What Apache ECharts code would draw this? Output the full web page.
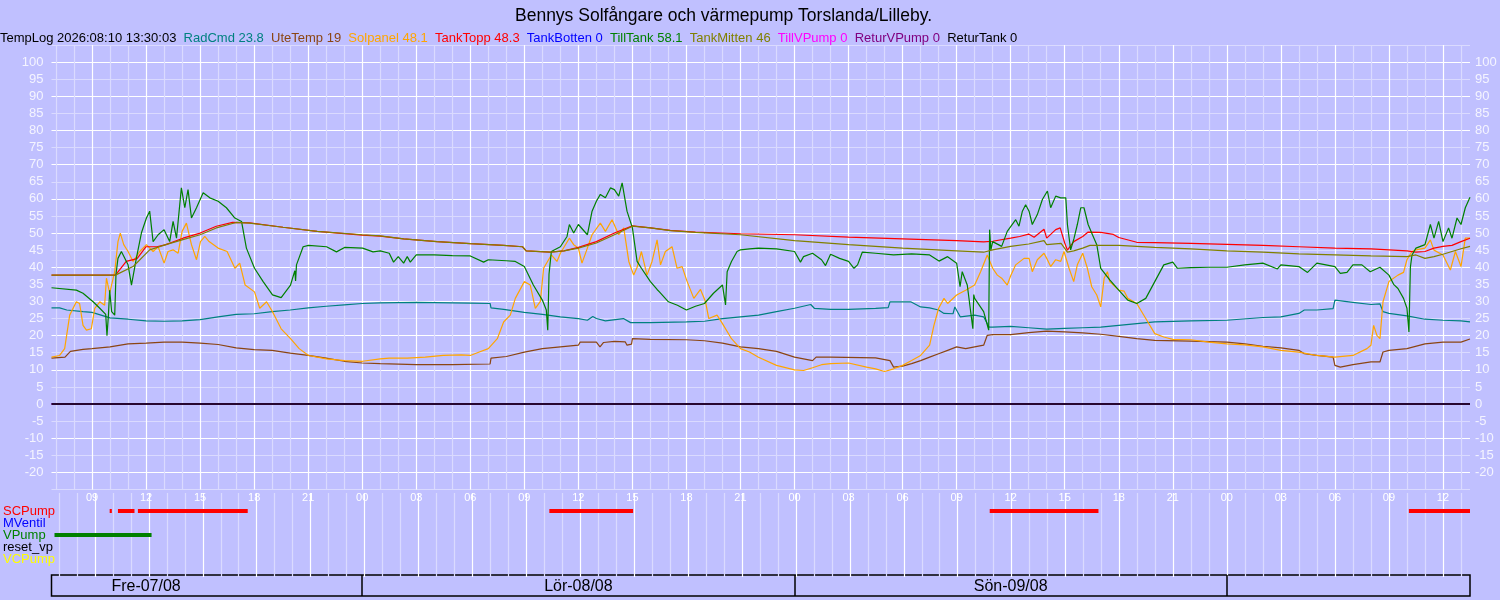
<!DOCTYPE html>
<html>
<head>
<meta charset="utf-8">
<script src="https://cdn.jsdelivr.net/npm/echarts@6/dist/echarts.min.js"></script>
<style>
  html, body { margin: 0; padding: 0; background: #c0c0ff; }
  #templog-chart { width: 1500px; height: 600px; }
</style>
</head>
<body>
<div id="templog-chart"></div>
<script>
// Tidsaxel i timmar räknat från fredag 07/08 00:00
const startHour = 6.75;
const endHour = 85.5;
const dayLabels = ['Fre-07/08', 'Lör-08/08', 'Sön-09/08', ''];

const seriesNames = ['RadCmd', 'UteTemp', 'Solpanel', 'TankTopp', 'TankBotten', 'TillTank', 'TankMitten', 'TillVPump', 'ReturVPump', 'ReturTank'];
const currentValues = [23.8, 19, 48.1, 48.3, 0, 58.1, 46, 0, 0, 0];
const logTime = '2026:08:10 13:30:03';

const radCmd = [[6.75,28.1],[7.2,28.1],[7.6,27.5],[8.5,27],[9,26.8],[10,25.2],[11,24.8],[12,24.3],[13,24.2],[14,24.3],[15,24.7],[16,25.5],[17,26.2],[18,26.4],[19,27],[20,27.5],[21,28.1],[22,28.6],[23,29],[24,29.4],[25,29.6],[27,29.7],[30,29.5],[31.1,29.4],[31.15,28.1],[31.85,27.7],[33,26.8],[34,26.2],[35,25.5],[36,25],[36.5,24.5],[36.8,25.6],[37,25],[37.5,24.3],[38.5,25],[38.9,23.8],[40,23.8],[42,24],[43,24.2],[44,25],[45,25.5],[46,26],[47,27],[48,28],[48.9,29.1],[49.1,28],[50,27.7],[51,27.7],[52.5,28],[53.2,28.2],[53.3,29.9],[54.45,29.9],[55,28.4],[55.5,28.1],[56,27.5],[56.3,26.5],[56.8,26.4],[56.9,28.4],[57.2,25.5],[58,26],[58.5,25.5],[58.8,22.5],[59,22.5],[60,22.7],[61,22.3],[62,21.9],[63,22.1],[64,22.3],[65,22.5],[66,23],[67,23.5],[68,24],[70,24.3],[72,24.5],[74,25.3],[75,25.5],[76,26.5],[76.3,27.5],[77,27.5],[77.9,27.9],[78,30.4],[79,29.7],[80,29.1],[80.5,29.3],[80.67,27],[81,26.5],[82,25.8],[83,24.8],[84,24.5],[85,24.3],[85.5,24]];

const uteTemp = [[6.75,13.4],[7.5,13.7],[7.8,15.4],[8.5,16],[9,16.2],[10,16.7],[11,17.6],[12,17.8],[13,18.1],[14,18.1],[15,17.8],[16,17.4],[17,16.4],[18,15.9],[19,15.7],[20,14.9],[21,14.2],[22,13.4],[23,12.5],[24,12],[25,11.8],[27,11.5],[29,11.5],[31.1,11.7],[31.15,13.4],[32,13.9],[33,15.2],[34,16.2],[35,16.7],[36,17.2],[36.1,18.1],[37,18.1],[37.2,16.7],[37.4,18],[38,18.3],[38.6,18.2],[38.7,17.2],[38.95,17.5],[39,19.1],[40,18.9],[42,18.8],[43,18.5],[44,17.8],[45,16.7],[46,16.2],[47,15.4],[48,13.7],[48.5,13.2],[49,12.7],[49.2,13.7],[50,13.7],[52.5,13.5],[53.3,12.7],[53.5,10.8],[54,11.1],[54.5,11.8],[55,12.7],[55.5,13.7],[56,14.7],[56.5,15.7],[57,16.7],[57.5,16.2],[58,16.7],[58.5,17.2],[58.7,20.1],[59,20.3],[60,20.3],[61,20.9],[62,21.3],[63,21.1],[64,20.8],[65,20.4],[66,19.8],[67,19.1],[68,18.6],[70,18.4],[72,18.1],[73,17.6],[74,16.9],[75,16.4],[76,15.7],[76.3,14.7],[77,14.2],[77.9,13.7],[78,11.3],[78.3,10.8],[79,11.5],[80,12.3],[80.5,12.3],[80.67,15.2],[81,15.7],[82,16.2],[83,17.6],[84,18.1],[85,18.1],[85.5,19]];

const solpanel = [[6.75,13.7],[7.2,14.2],[7.48,16.2],[7.76,26],[8.13,29.9],[8.31,29.4],[8.5,23],[8.69,21.6],[8.96,22],[9.15,28],[9.43,29.9],[9.7,28.9],[9.8,36.8],[9.98,32.4],[10.26,38.7],[10.44,47.5],[10.57,50],[10.76,46.6],[11,44.6],[11.28,41.7],[11.65,44.6],[12.02,46.6],[12.39,44.6],[12.67,46],[13,41.2],[13.22,44.6],[13.5,45.1],[13.78,44.1],[14,50.5],[14.24,52.9],[14.52,46.6],[14.8,42.2],[15.02,47.5],[15.26,49],[15.5,47.5],[16,45.6],[16.5,44.6],[16.93,39.7],[17.2,41.2],[17.5,34.8],[18.02,32.8],[18.31,28],[18.69,29.9],[19.02,27],[19.5,22],[20.02,19.1],[20.5,16.2],[21.02,14.2],[22.02,13.2],[23.02,12.7],[24.02,12.5],[25,13.2],[25.5,13.4],[26.5,13.4],[27.5,13.7],[28.5,14.2],[29.5,14.4],[30,14.2],[30.5,15.2],[31,16.2],[31.5,19.1],[31.85,24],[32.22,26],[32.5,30.9],[33,35.8],[33.33,34.8],[33.61,28],[33.89,30],[34.07,39.7],[34.5,43.6],[34.81,41.7],[35,44.1],[35.5,48.5],[35.74,46.6],[36,45.6],[36.2,41.2],[36.5,45.6],[36.76,49.5],[37.22,52.9],[37.5,50.5],[37.87,53.9],[38.24,49.5],[38.52,51.5],[38.8,41.7],[39.07,37.7],[39.26,40],[39.5,44.6],[39.81,37.7],[40.09,41.7],[40.37,48],[40.56,40.7],[40.83,44.6],[41.2,46],[41.48,39.7],[41.76,40.2],[42.04,35.8],[42.41,30.9],[42.78,33.5],[43.06,29.9],[43.24,25],[43.7,26],[44,23.5],[44.5,19.1],[45,16.2],[45.5,15.2],[46,13.7],[47,11.3],[48,10],[48.5,9.8],[49,10.6],[49.5,11.5],[50,11.8],[51,12],[52,10.8],[52.5,10.3],[53,9.5],[53.5,10.3],[54,11.3],[54.5,12.7],[55,14.2],[55.5,17.2],[55.74,23],[56,28],[56.3,30.9],[56.5,29.4],[57,31.9],[57.5,33.3],[58,34.8],[58.33,38.7],[58.7,43.6],[59,39.7],[59.26,37.7],[59.5,36.8],[59.81,34.8],[60,37.5],[60.28,40.7],[60.74,42.6],[61.02,42.6],[61.2,38.7],[61.48,42.2],[61.85,44.1],[62,42.6],[62.22,40.2],[62.5,42.2],[62.78,41.7],[62.96,44.6],[63.24,39.7],[63.5,35.8],[63.7,40.7],[64,44.1],[64.26,39.7],[64.5,34.3],[64.78,31.9],[65,28.4],[65.19,36.8],[65.37,38.7],[65.5,35.8],[66,33.3],[66.3,33],[66.5,30.9],[67,29.4],[67.5,25],[68,20.6],[68.5,19.6],[69,18.9],[70,18.8],[71,18.1],[72,17.6],[73,17.3],[74,16.7],[75,15.7],[76,15.2],[77,14.2],[78,13.7],[79,14.2],[79.78,16.2],[80,17.2],[80.15,23],[80.33,20.1],[80.5,19.1],[80.67,29.9],[81,35.8],[81.5,37.7],[81.81,38.5],[82,42.2],[82.28,44.6],[82.5,45.1],[83,45.6],[83.3,48],[83.5,45],[84,43.6],[84.41,39.2],[84.69,44.6],[85,40.2],[85.24,48.5],[85.5,48.5]];

const tankTopp = [[6.75,37.7],[10.3,37.7],[10.9,41.7],[11.5,42.5],[12,46],[12.6,46],[13.1,46.6],[14.05,48.5],[15,50],[15.9,52],[16.8,53.1],[17.75,53],[19.6,51.7],[21.5,50.5],[24,49.4],[25,49.1],[26.3,48.3],[28.15,47.5],[30,46.9],[31.85,46.4],[32.9,46],[33.1,44.8],[34.45,44.4],[35.2,44.8],[36,45.8],[37,47.5],[38,50],[39,52.1],[40,51.5],[41.1,50.8],[42.5,50.3],[45,49.8],[48,49.5],[51,48.8],[54,48.3],[57,47.8],[58.5,47.4],[59,47.6],[60,48.5],[60.5,49],[61,49.7],[61.3,48.8],[61.85,51.1],[62,48.5],[62.5,51],[62.75,51.5],[63,47.1],[63.15,45],[63.5,47.5],[64,49],[64.3,50.3],[65,50.2],[65.7,49.6],[66,48.7],[67,47.3],[68,47.2],[70,47],[72,46.7],[74,46.4],[76,46],[78,45.6],[80,45.4],[81,45.1],[82,44.8],[82.5,44.4],[83,44.6],[83.5,45.6],[84,46.1],[84.5,46.4],[85,47.5],[85.5,48.5]];

const tillTank = [[6.75,34],[8.13,33.3],[8.5,32.4],[9.06,29.9],[9.43,28],[9.76,26.2],[9.83,20],[9.91,26],[9.98,33.3],[10.09,27],[10.26,26],[10.33,38],[10.44,42.6],[10.63,44.6],[11,40.7],[11.19,34.8],[11.46,42.6],[11.74,50],[12.02,54.4],[12.2,56.4],[12.39,47.5],[12.67,49.5],[13,51],[13.31,47.5],[13.5,53.4],[13.69,48.5],[13.96,63.2],[14.15,57.4],[14.33,62.7],[14.52,54.4],[14.8,57.4],[15.17,61.8],[15.54,60.3],[16,59.3],[16.46,57.4],[16.93,54.4],[17.3,53.4],[17.57,45.6],[18.02,39.7],[18.5,35.8],[19.02,31.9],[19.5,31.1],[20.02,34.8],[20.26,39],[20.3,36],[20.35,40.7],[20.72,46],[21.02,46.4],[22.02,46],[22.57,44.5],[23.02,45.8],[24.02,45.6],[24.6,44.5],[25,44.8],[25.5,44.1],[25.74,41.5],[26,43.1],[26.3,41.2],[26.5,43.1],[26.67,41.5],[27,43.6],[28,43.6],[29,43.4],[30,43.3],[30.74,41.5],[31,42.2],[32,41.9],[32.5,41.7],[33,40.2],[33.5,34.8],[34,30.4],[34.22,27.5],[34.3,21.6],[34.37,38],[34.5,44.6],[35,46],[35.37,49],[35.5,52.5],[35.74,50],[36,52.5],[36.5,49.5],[36.76,56.4],[37,59.3],[37.22,61.3],[37.5,60.3],[37.78,63.2],[38,62.7],[38.24,60.8],[38.43,64.7],[38.7,56.4],[39,51.5],[39.26,41.7],[39.5,39.7],[40,35.8],[40.37,33.5],[40.5,32.8],[41,29.9],[41.5,28.9],[42,27.5],[42.5,28.6],[43,29.4],[43.5,32.4],[44,34.8],[44.17,29],[44.26,38.7],[44.5,41.7],[44.81,44.6],[45,45.1],[45.5,45.4],[46,45.6],[47,45.4],[48,44.6],[48.33,41.5],[48.5,43.1],[49,44.1],[49.5,42.2],[49.72,40.5],[50,43.8],[50.5,42.6],[51,41.7],[51.3,39.7],[51.5,40.7],[51.76,44.4],[52.5,44.1],[53.5,43.6],[54.5,43.9],[55.5,43.6],[56.02,41.8],[56.5,43.1],[57,41.2],[57.19,34.3],[57.31,38.7],[57.59,34.8],[57.9,22],[57.95,32],[58,30.9],[58.5,27],[58.78,21.6],[58.83,51],[58.9,45],[59,47.5],[59.5,46.1],[59.81,50.5],[60.28,53.9],[60.46,52],[60.65,56.4],[60.83,58.3],[61.02,56.4],[61.2,52.5],[61.48,55.4],[61.76,59.8],[62.04,62.3],[62.22,57.4],[62.5,60.8],[62.78,60.3],[63.06,60.3],[63.15,52.5],[63.33,45.1],[63.52,48.5],[63.7,52.5],[63.89,57.4],[64.07,57.4],[64.3,52.5],[64.54,49.5],[64.78,46.6],[65,39.7],[65.5,36.3],[66,33.3],[66.5,30.4],[67,29.4],[67.5,30.9],[68,35.8],[68.5,40.7],[69,41.5],[69.26,39.7],[70,39.9],[71,40],[72,40],[73,40.7],[74,41.2],[74.81,39.5],[75,40.7],[76,40.2],[76.48,38.5],[77,41.2],[78,40.2],[78.3,38.2],[78.67,38.5],[79,40.7],[79.5,40.7],[79.96,38.7],[80.5,40],[81,37.7],[81.26,35],[81.5,33.8],[81.81,30.9],[82,28],[82.11,21.1],[82.19,40],[82.28,43.6],[82.5,45.6],[83,46.6],[83.3,52.5],[83.5,48.5],[83.76,53.4],[84,47.5],[84.31,51.5],[84.5,48.5],[84.78,54.4],[85,52.5],[85.24,57.4],[85.5,60.5]];

const tankMitten = [[6.75,37.7],[10.3,37.7],[11.3,40.3],[12.2,45.1],[13.1,46.6],[14,48],[15,49.5],[15.9,51.5],[17,53.1],[17.75,52.9],[19.6,51.7],[21.5,50.5],[24,49.5],[25,49.2],[26.3,48.3],[28.15,47.5],[30,46.9],[31.85,46.4],[32.9,46],[33.1,44.8],[34.45,44.4],[35.2,44.8],[36,45.6],[37,47.1],[38,49.5],[39,52],[40,51.5],[41.1,50.7],[42.5,50.2],[45,49.5],[48,47.8],[51,46.6],[54,45.6],[57,44.8],[58.5,44.4],[59,45.1],[60,46.1],[61,46.8],[61.85,47.8],[62,46.6],[62.8,47],[63.15,44.4],[63.5,44.8],[64,45.6],[64.4,46.4],[66,46.4],[68,45.8],[70,45.4],[72,44.8],[74,44.4],[76,43.9],[78,43.6],[80,43.3],[82,43.1],[82.5,43.6],[83,42.6],[83.5,43.1],[84,43.8],[85,45.4],[85.5,46.1]];

const zeroLine = [[6.75,0],[85.5,0]];

// Pumpar: på-intervall [start, slut] i timmar
const statusRows = ['', 'SCPump', 'MVentil', 'VPump', 'reset_vp', 'VCPump', ''];
const scPumpOn = [[9.82,9.94],[10.28,11.2],[11.39,17.5],[34.28,38.94],[58.78,64.83],[82.1,85.5]];
const mVentilOn = [];
const vPumpOn = [[6.75,12.15]];
const resetVpOn = [];
const vcPumpOn = [];

const seriesData = [radCmd, uteTemp, solpanel, tankTopp, zeroLine, tillTank, tankMitten, zeroLine, zeroLine, zeroLine];
const seriesColors = ['#008080', '#8b4513', '#ffa500', '#ff0000', '#0000ff', '#008000', '#808000', '#ff00ff', '#800080', '#000000'];
const statusColors = ['#ff0000', '#0000ff', '#008000', '#000000', '#ffff00'];

const bg = '#c0c0ff';
const minorLine = '#dadaff';

// 15-min ticks: var 4:e = timlinje, var 12:e = vit 3-timmarslinje
const hourColors = [];
for (let i = 0; i < 12; i++) {
    hourColors.push(i === 9 ? '#ffffff' : (i % 4 === 1 ? minorLine : 'rgba(0,0,0,0)'));
}
const dayColors = [];
for (let i = 0; i < 96; i++) {
    dayColors.push(i === 69 ? '#000000' : 'rgba(0,0,0,0)');
}

function hourLabel(v) {
    const q = Math.round(v * 4) / 4;
    if (q % 3 !== 0) return '';
    const h = q % 24;
    return (h < 10 ? '0' : '') + h;
}

const chart = echarts.init(document.getElementById('templog-chart'));

const legendRich = { k: { color: '#000000', fontSize: 13 } };
let legendText = '{k|TempLog ' + logTime + '}';
seriesNames.forEach((n, i) => {
    legendRich['s' + i] = { color: seriesColors[i], fontSize: 13 };
    legendText += '  {s' + i + '|' + n + ' ' + currentValues[i] + '}';
});

const lineSeries = seriesNames.map((n, i) => ({
    name: n,
    type: 'line',
    xAxisIndex: 0,
    yAxisIndex: 0,
    data: seriesData[i],
    symbol: 'none',
    lineStyle: { color: seriesColors[i], width: n === 'ReturTank' ? 1.5 : 1.2 },
    itemStyle: { color: seriesColors[i] }
}));

const pumpIntervals = [scPumpOn, mVentilOn, vPumpOn, resetVpOn, vcPumpOn];
const pumpData = [];
pumpIntervals.forEach((list, r) => {
    list.forEach(iv => {
        pumpData.push({ value: [iv[0], iv[1], r + 1], itemStyle: { color: statusColors[r] } });
    });
});

const xBase = {
    type: 'value',
    min: startHour,
    max: endHour,
    interval: 0.25,
    axisLine: { show: false },
    axisTick: { show: false }
};

chart.setOption({
    backgroundColor: bg,
    animation: false,
    textStyle: { fontFamily: 'Liberation Sans, Arial, sans-serif' },
    title: [
        {
            text: 'Bennys Solfångare och värmepump Torslanda/Lilleby.',
            left: 510,
            top: 2,
            textStyle: { fontSize: 17.5, fontWeight: 'normal', color: '#000' }
        },
        {
            text: legendText,
            left: 0,
            top: 32,
            padding: 0,
            textStyle: { fontSize: 13, fontWeight: 'normal', rich: legendRich }
        }
    ],
    grid: [
        { left: 51.5, right: 30, top: 45, height: 444.5 },
        { left: 51.5, right: 30, top: 493, height: 84 },
        { left: 51.5, right: 30, top: 575, height: 21, show: true, borderColor: '#000', borderWidth: 1.5, backgroundColor: 'rgba(0,0,0,0)' }
    ],
    xAxis: [
        Object.assign({}, xBase, {
            gridIndex: 0,
            axisLabel: { color: '#ffffff', fontSize: 11, margin: 3, formatter: hourLabel },
            splitLine: { show: true, lineStyle: { color: hourColors, width: 1.2 } }
        }),
        Object.assign({}, xBase, {
            gridIndex: 1,
            axisLabel: { show: false },
            splitLine: { show: true, lineStyle: { color: hourColors, width: 1.2 } }
        }),
        Object.assign({}, xBase, {
            gridIndex: 2,
            axisLabel: {
                inside: true,
                margin: 1,
                color: '#000',
                fontSize: 16,
                formatter: v => {
                    const q = Math.round(v * 4) / 4;
                    return q % 24 === 12 ? dayLabels[Math.floor(q / 24)] : '';
                }
            },
            splitLine: { show: true, lineStyle: { color: dayColors, width: 1.5 } }
        })
    ],
    yAxis: [
        {
            type: 'value', gridIndex: 0, position: 'left',
            min: -25, max: 105, interval: 5,
            axisLine: { show: false }, axisTick: { show: false },
            axisLabel: { color: '#f4f4ff', fontSize: 13, margin: 8, formatter: v => (v < -20 || v > 100) ? '' : v },
            splitLine: { show: true, lineStyle: { color: [minorLine, '#ffffff'], width: 1.2 } }
        },
        {
            type: 'value', gridIndex: 0, position: 'right',
            min: -25, max: 105, interval: 5,
            axisLine: { show: false }, axisTick: { show: false },
            axisLabel: { color: '#f4f4ff', fontSize: 13, margin: 5, formatter: v => (v < -20 || v > 100) ? '' : v },
            splitLine: { show: false }
        },
        {
            type: 'category', gridIndex: 1, inverse: true,
            data: statusRows,
            axisLine: { show: false }, axisTick: { show: false },
            axisLabel: {
                align: 'left', margin: 51.5, fontSize: 13, interval: 0,
                color: (v, i) => i >= 1 && i <= 5 ? statusColors[i - 1] : '#000'
            },
            splitLine: { show: false }
        },
        {
            type: 'value', gridIndex: 2, min: 0, max: 1,
            axisLine: { show: false }, axisTick: { show: false }, axisLabel: { show: false }, splitLine: { show: false }
        }
    ],
    series: lineSeries.concat([
        {
            name: 'Pumpar',
            type: 'custom',
            xAxisIndex: 1,
            yAxisIndex: 2,
            encode: { x: [0, 1], y: 2 },
            data: pumpData,
            renderItem: (params, api) => {
                const s = api.coord([api.value(0), api.value(2)]);
                const e = api.coord([api.value(1), api.value(2)]);
                return {
                    type: 'rect',
                    shape: { x: s[0], y: s[1] - 2, width: Math.max(e[0] - s[0], 2), height: 4 },
                    style: { fill: api.visual('color') }
                };
            }
        }
    ])
});

window.addEventListener('resize', () => chart.resize());
</script>
</body>
</html>
